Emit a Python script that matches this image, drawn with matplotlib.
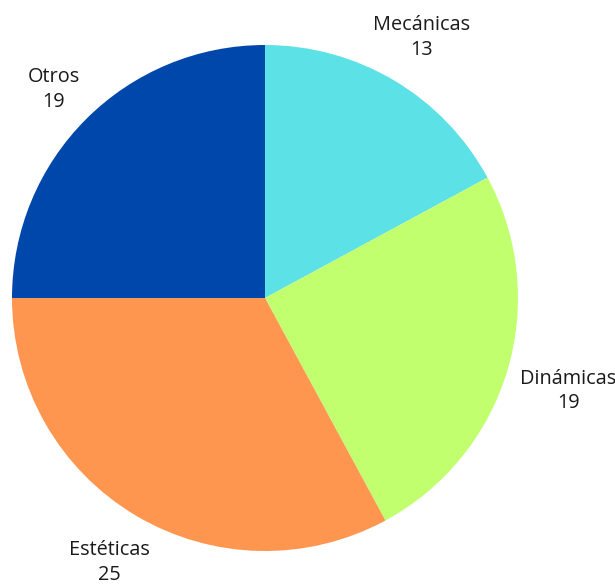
import numpy as np
import matplotlib.pyplot as plt

# data
labels = ['Mecánicas', 'Dinámicas', 'Estéticas', 'Otros']
values = [13, 19, 25, 19]
colors = ['#5ce1e6', '#c1ff6e', '#ff964f', '#0047ab']

plt.rcParams['font.family'] = ['Open Sans', 'DejaVu Sans']

fig = plt.figure(figsize=(6.15, 5.86), dpi=100)
ax = fig.add_axes([12/615, 35/586, 506/615, 506/586])

texts = [l + '\n' + str(v) for l, v in zip(labels, values)]
wedges, lbls = ax.pie(values, colors=colors, startangle=90, counterclock=False,
                      labels=texts, labeldistance=1.22,
                      textprops=dict(fontsize=14.3, color='#1a1a1a', linespacing=1.3))

# pull labels in/out a bit per slice to match the original placement
dist = [1.21, 1.25, 1.205, 1.18]
for w, t, d in zip(wedges, lbls, dist):
    ang = np.deg2rad((w.theta1 + w.theta2) / 2)
    t.set_position((d * np.cos(ang), d * np.sin(ang) - 0.01))
    t.set_ha('center')
    t.set_va('center')

ax.set_xlim(-1, 1)
ax.set_ylim(-1, 1)
ax.set_aspect('equal')

fig.savefig('out.png', dpi=100)
